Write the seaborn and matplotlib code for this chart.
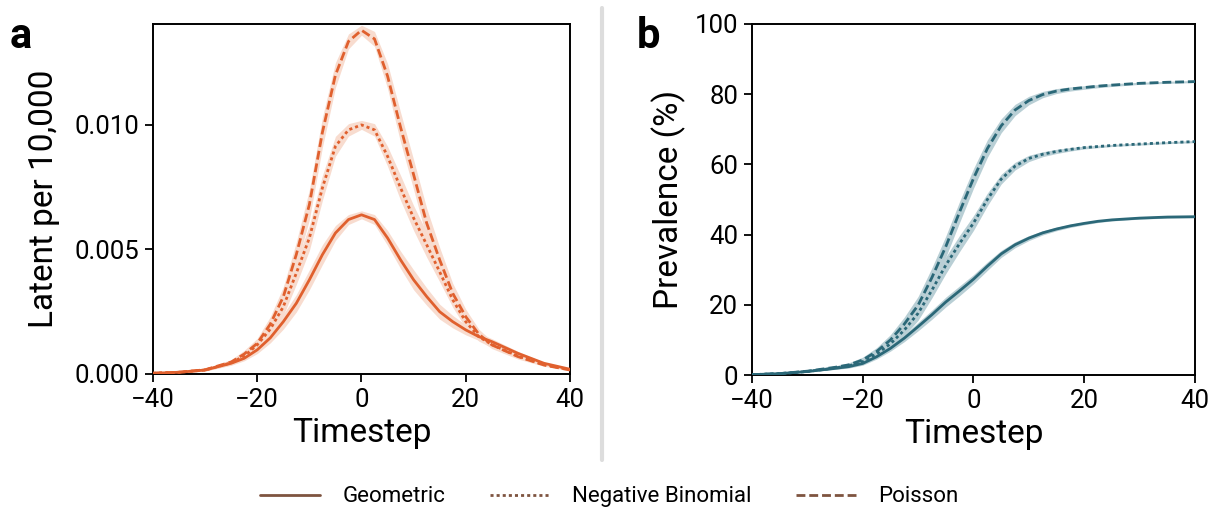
import numpy as np
import pandas as pd
import matplotlib
matplotlib.use("Agg")
import matplotlib.pyplot as plt
from matplotlib.lines import Line2D
import seaborn as sns

# ---------------- data ----------------
timesteps = [-40, -35, -30, -25, -22.5, -20, -17.5, -15, -12.5, -10, -7.5, -5, -2.5, 0,
             2.5, 5, 7.5, 10, 12.5, 15, 17.5, 20, 22.5, 25, 30, 35, 40]
models = ["Geometric", "Negative Binomial", "Poisson"]

latent_geometric = [0.00003, 0.00007, 0.00016, 0.00043, 0.00063, 0.00097, 0.00145, 0.0021, 0.00284,
                    0.00378, 0.00479, 0.00566, 0.0062, 0.00639, 0.0062, 0.00546, 0.00458, 0.00378,
                    0.00311, 0.0025, 0.0021, 0.00177, 0.0015, 0.0013, 0.00083, 0.00043, 0.00019]
latent_negbin = [0.00003, 0.00007, 0.00016, 0.00045, 0.00072, 0.00117, 0.0018, 0.0027, 0.00405,
                 0.00546, 0.00747, 0.00914, 0.0098, 0.0100, 0.0098, 0.00874, 0.00747, 0.00626,
                 0.00519, 0.0041, 0.00298, 0.0021, 0.0015, 0.00118, 0.00072, 0.00038, 0.00017]
latent_poisson = [0.00003, 0.00007, 0.00017, 0.00048, 0.0008, 0.00123, 0.0020, 0.0031, 0.0048,
                  0.0068, 0.0097, 0.0120, 0.01335, 0.0138, 0.01345, 0.01196, 0.0099, 0.0080,
                  0.00606, 0.00458, 0.00324, 0.0023, 0.0016, 0.00117, 0.0007, 0.00036, 0.00016]

latent_band_geometric = [0.00002, 0.00003, 0.00004, 0.00008, 0.0001, 0.00015, 0.0002, 0.0003, 0.00035,
                         0.0004, 0.0004, 0.0003, 0.0002, 0.00016, 0.0002, 0.0003, 0.00035, 0.0004,
                         0.00035, 0.0003, 0.00025, 0.0002, 0.00015, 0.00012, 0.00008, 0.00004, 0.00003]
latent_band_negbin = [0.00002, 0.00003, 0.00004, 0.00008, 0.00012, 0.00016, 0.00025, 0.00035, 0.00045,
                      0.0005, 0.0005, 0.0004, 0.00025, 0.00018, 0.00025, 0.0004, 0.0005, 0.0005,
                      0.0005, 0.0004, 0.0003, 0.00025, 0.00018, 0.00012, 0.00008, 0.00004, 0.00003]
latent_band_poisson = [0.00002, 0.00003, 0.00005, 0.0001, 0.00015, 0.0002, 0.0003, 0.0004, 0.0005,
                       0.0006, 0.0006, 0.0005, 0.0003, 0.0002, 0.0003, 0.0005, 0.0006, 0.0006,
                       0.0006, 0.0005, 0.0004, 0.0003, 0.0002, 0.00015, 0.0001, 0.00005, 0.00003]

prev_geometric = [0.1, 0.4, 1.0, 1.9, 2.4, 3.3, 5.2, 7.6, 10.5, 13.8, 17.2, 20.8, 24.0, 27.3,
                  31.0, 34.5, 37.1, 39.0, 40.5, 41.6, 42.5, 43.2, 43.8, 44.2, 44.7, 45.0, 45.1]
prev_negbin = [0.1, 0.4, 1.0, 2.0, 2.6, 3.8, 6.0, 8.9, 12.8, 17.6, 24.2, 31.3, 37.5, 43.3,
               50.0, 55.8, 59.5, 61.7, 62.9, 63.7, 64.3, 64.8, 65.1, 65.4, 65.8, 66.2, 66.5]
prev_poisson = [0.1, 0.4, 1.1, 2.2, 2.9, 4.3, 6.7, 10.0, 14.5, 19.9, 27.8, 36.6, 46.5, 56.0,
                64.5, 71.0, 75.5, 78.2, 79.9, 80.9, 81.5, 81.9, 82.3, 82.6, 83.1, 83.4, 83.6]

prev_band_geometric = [0.05, 0.1, 0.15, 0.3, 0.4, 0.5, 0.65, 0.8, 1.0, 1.2, 1.3, 1.4, 1.4, 1.3,
                       1.2, 1.0, 0.85, 0.7, 0.6, 0.5, 0.45, 0.4, 0.35, 0.3, 0.3, 0.3, 0.3]
prev_band_negbin = [0.05, 0.1, 0.2, 0.3, 0.45, 0.6, 0.9, 1.2, 1.6, 2.0, 2.2, 2.4, 2.3, 2.1,
                    1.8, 1.4, 1.1, 0.9, 0.7, 0.6, 0.5, 0.4, 0.35, 0.3, 0.3, 0.3, 0.3]
prev_band_poisson = [0.05, 0.1, 0.2, 0.4, 0.6, 0.8, 1.1, 1.5, 2.0, 2.5, 2.8, 3.0, 3.0, 2.8,
                     2.5, 2.0, 1.6, 1.2, 0.9, 0.7, 0.6, 0.5, 0.45, 0.4, 0.3, 0.3, 0.3]

latent_ticks = [0.000, 0.005, 0.010]
latent_tick_labels = ["0.000", "0.005", "0.010"]
prev_ticks = [0, 20, 40, 60, 80, 100]
x_ticks = [-40, -20, 0, 20, 40]

# ---------------- style ----------------
sns.set_theme(style="ticks")
plt.rcParams["font.family"] = ["Roboto", "DejaVu Sans"]
plt.rcParams["text.color"] = "black"
plt.rcParams["axes.labelcolor"] = "black"
plt.rcParams["axes.linewidth"] = 1.4
plt.rcParams["xtick.major.width"] = 1.3
plt.rcParams["ytick.major.width"] = 1.3
plt.rcParams["xtick.major.size"] = 6
plt.rcParams["ytick.major.size"] = 6
plt.rcParams["xtick.color"] = "black"
plt.rcParams["ytick.color"] = "black"
plt.rcParams["axes.edgecolor"] = "black"

ORANGE = "#E0602E"
ORANGE_BAND = "#F8DCCF"
TEAL = "#2B6878"
TEAL_BAND = "#B9CFD5"
LEGEND_COL = "#7E5440"

dash_map = {"Geometric": "", "Negative Binomial": (1.1, 1.1), "Poisson": (3.2, 1.4)}

def long_df(series):
    rows = []
    for m, vals in zip(models, series):
        for t, v in zip(timesteps, vals):
            rows.append({"Timestep": t, "value": v, "Model": m})
    return pd.DataFrame(rows)

latent_df = long_df([latent_geometric, latent_negbin, latent_poisson])
prev_df = long_df([prev_geometric, prev_negbin, prev_poisson])

fig = plt.figure(figsize=(12.19, 5.15), dpi=100)
ax1 = fig.add_axes([0.1255, 0.2738, 0.3421, 0.6796])
ax2 = fig.add_axes([0.6169, 0.2718, 0.3634, 0.6816])

t_arr = np.array(timesteps, dtype=float)

for vals, band in [(latent_geometric, latent_band_geometric),
                   (latent_negbin, latent_band_negbin),
                   (latent_poisson, latent_band_poisson)]:
    v = np.array(vals); b = np.array(band)
    ax1.fill_between(t_arr, v - b, v + b, color=ORANGE_BAND, lw=0, zorder=1)
for vals, band in [(prev_geometric, prev_band_geometric),
                   (prev_negbin, prev_band_negbin),
                   (prev_poisson, prev_band_poisson)]:
    v = np.array(vals); b = np.array(band)
    ax2.fill_between(t_arr, v - b, v + b, color=TEAL_BAND, lw=0, zorder=1)

sns.lineplot(data=latent_df, x="Timestep", y="value", style="Model", dashes=dash_map,
             color=ORANGE, linewidth=2.0, ax=ax1, legend=False, zorder=3)
sns.lineplot(data=prev_df, x="Timestep", y="value", style="Model", dashes=dash_map,
             color=TEAL, linewidth=2.0, ax=ax2, legend=False, zorder=3)

for ax in (ax1, ax2):
    ax.set_xlim(-40, 40)
    ax.set_xticks(x_ticks)
    ax.set_xlabel("Timestep", fontsize=24, labelpad=4)
    ax.tick_params(axis="both", labelsize=18.5, pad=4)
    for s in ax.spines.values():
        s.set_visible(True)
        s.set_color("black")

ax1.set_ylim(0, 0.01405)
ax1.set_yticks(latent_ticks)
ax1.set_yticklabels(latent_tick_labels)
ax1.set_ylabel("Latent per 10,000", fontsize=24, labelpad=10)

ax2.set_ylim(0, 100)
ax2.set_yticks(prev_ticks)
ax2.set_ylabel("Prevalence (%)", fontsize=24, labelpad=6)

fig.text(0.008, 0.93, "a", fontsize=30, fontweight="bold", va="center", ha="left")
fig.text(0.522, 0.93, "b", fontsize=30, fontweight="bold", va="center", ha="left")

fig.add_artist(Line2D([0.494, 0.494], [0.107, 0.985], transform=fig.transFigure,
                      color="#DDDDDD", lw=3))

handles = [Line2D([0], [0], color=LEGEND_COL, lw=2),
           Line2D([0], [0], color=LEGEND_COL, lw=2, dashes=dash_map["Negative Binomial"]),
           Line2D([0], [0], color=LEGEND_COL, lw=2, dashes=dash_map["Poisson"])]
fig.legend(handles, models, loc="center", bbox_to_anchor=(0.5, 0.035), ncol=3, frameon=False,
           fontsize=16, handlelength=2.7, columnspacing=2.0, handletextpad=1.0)

fig.savefig("out.png", dpi=100)
